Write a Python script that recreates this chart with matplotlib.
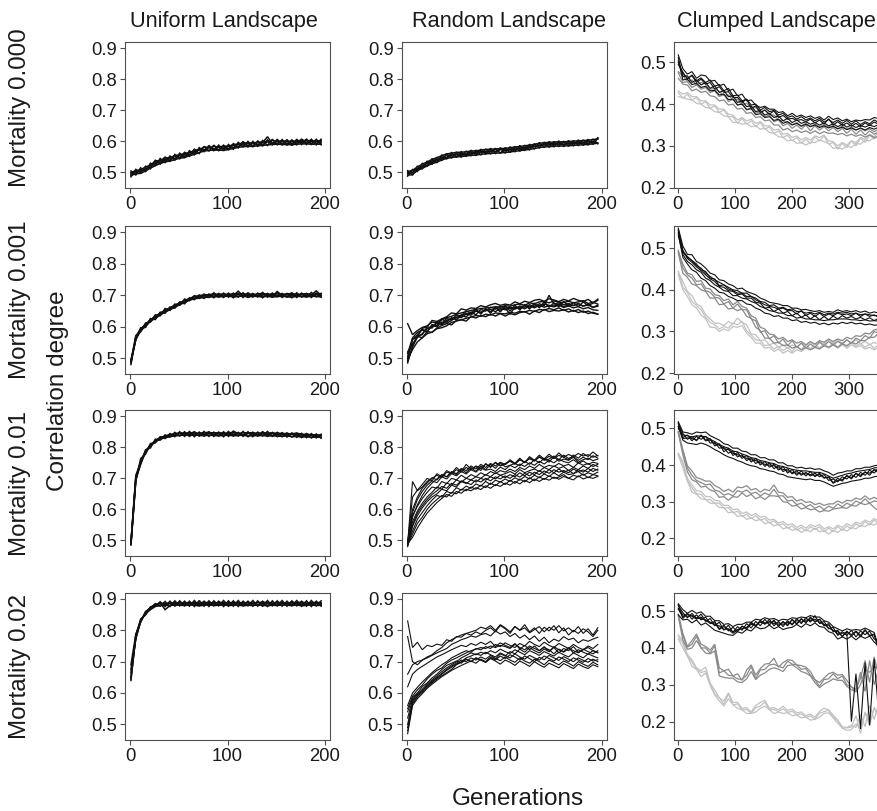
import numpy as np
import matplotlib
matplotlib.use("Agg")
import matplotlib.pyplot as plt

plt.rcParams['font.family'] = ['Liberation Sans', 'DejaVu Sans']

# ---------------- data (values in thousandths of correlation degree) ----------------
GEN_UR = [1, 6, 11, 16, 21, 26, 31, 36, 41, 46, 51, 56, 61, 66, 71, 76, 81, 86, 91, 96,
          101, 106, 111, 116, 121, 126, 131, 136, 141, 146, 151, 156, 161, 166, 171, 176, 181, 186, 191, 196]
GEN_C = [1, 9, 17, 25, 33, 41, 49, 57, 65, 73, 81, 89, 97, 105, 113, 121, 129, 137, 145, 153,
         161, 169, 177, 185, 193, 201, 209, 217, 225, 233, 241, 249, 257, 265, 273, 281, 289, 297, 305, 313,
         321, 329, 337, 345, 353]

COL_TITLES = ["Uniform Landscape", "Random Landscape", "Clumped Landscape"]
ROW_TITLES = ["Mortality 0.000", "Mortality 0.001", "Mortality 0.01", "Mortality 0.02"]
XTICKS_UR = [0, 100, 200]
XTICKS_C = [0, 100, 200, 300]
YTICKS_UR = [0.5, 0.6, 0.7, 0.8, 0.9]
YTICKS_C = [0.2, 0.3, 0.4, 0.5]

# Uniform landscape
U0 = [
    [486,510,498,520,512,540,527,550,535,558,544,565,552,575,561,584,569,588,570,588,572,593,579,600,582,600,584,603,587,607,589,606,588,605,589,608,590,607,589,607],
    [505,492,515,502,530,522,545,532,553,540,562,547,570,557,580,567,587,570,588,570,590,575,597,582,600,582,602,585,605,589,607,588,606,587,607,590,608,589,607,589],
    [500,506,508,518,523,537,538,548,546,555,556,562,563,572,573,582,580,584,582,585,584,590,591,596,594,596,596,599,599,603,600,602,600,601,601,604,602,603,601,603],
    [490,496,497,505,514,522,529,534,537,541,546,548,554,558,564,569,571,572,572,571,574,577,581,583,584,584,586,587,589,590,591,590,590,589,591,592,592,591,591,591],
    [494,503,504,512,518,532,533,543,540,553,549,558,557,567,572,573,580,575,582,576,585,580,592,588,594,586,597,590,599,594,601,593,600,592,601,596,603,594,601,595],
    [498,498,510,508,524,527,540,537,548,545,557,552,565,562,575,572,582,576,574,582,577,588,584,593,587,594,589,596,615,594,594,600,593,599,595,600,595,601,594,600],
]
U1 = [
    [485,572,584,612,615,638,635,658,652,672,668,688,683,699,690,704,693,708,694,707,694,707,694,708,693,706,695,709,694,707,695,706,694,708,693,707,694,709,695,706],
    [495,558,597,598,626,623,646,643,663,659,679,673,692,686,701,690,704,692,706,693,707,692,706,693,708,694,707,692,706,694,707,693,706,692,708,694,706,693,707,694],
    [480,566,592,607,622,633,643,652,660,668,676,683,690,696,699,701,702,704,703,704,702,705,704,703,705,702,704,706,703,704,705,703,704,706,702,704,705,703,704,705],
    [490,562,587,602,617,627,637,647,654,662,670,677,684,689,691,693,694,696,695,696,697,695,696,698,694,697,696,695,697,694,696,697,695,694,697,696,695,697,696,695],
    [492,570,593,604,624,629,645,648,656,670,671,684,685,697,693,699,700,697,703,696,702,699,713,698,700,703,697,701,704,698,712,699,697,702,700,703,698,701,714,700],
    [488,560,589,609,618,634,639,653,659,664,677,678,689,691,697,694,699,702,698,701,699,700,702,699,703,700,698,702,700,703,699,701,703,700,698,702,701,699,702,700],
]
U2 = [
    [490,705,748,792,798,826,823,840,833,848,836,850,835,849,836,851,835,848,836,850,835,849,836,851,834,848,836,850,835,848,834,847,833,846,832,845,831,844,830,842],
    [485,692,764,778,812,814,834,828,844,834,850,835,851,834,849,836,850,835,849,834,851,836,848,835,850,834,849,836,851,835,847,834,846,833,845,831,844,830,843,829],
    [495,710,752,788,806,822,830,836,840,844,846,845,847,846,845,847,846,846,847,845,846,847,845,846,847,845,846,844,845,846,844,843,845,842,843,841,842,840,840,839],
    [488,694,750,783,804,818,826,831,834,837,838,839,838,839,838,837,839,838,837,838,839,837,838,839,836,838,837,838,836,837,836,835,837,834,835,833,834,832,833,832],
    [492,700,756,786,808,820,832,834,842,838,847,841,843,850,839,846,849,841,838,846,840,852,844,839,847,842,840,849,843,838,848,841,838,845,839,836,843,838,834,840],
    [491,698,745,787,804,820,829,830,837,842,838,844,842,841,845,840,844,848,843,839,846,841,844,839,844,848,839,844,842,847,841,846,839,843,846,841,837,840,839,836],
]
U3 = [
    [640,782,828,856,872,884,877,892,876,894,878,893,877,895,878,893,876,894,878,895,877,894,876,893,878,895,877,893,876,894,878,895,877,894,878,893,877,895,878,894],
    [665,775,834,852,868,878,891,876,893,877,894,878,893,876,895,877,894,878,893,876,894,877,895,878,893,877,894,876,895,878,894,877,893,878,895,877,894,876,893,877],
    [690,788,826,858,873,880,886,885,887,886,888,887,886,888,887,889,888,887,889,888,887,889,888,887,889,887,888,890,888,887,889,888,887,889,888,890,887,888,889,888],
    [650,779,831,854,866,876,879,880,879,881,880,879,881,880,878,880,881,879,880,881,879,880,881,878,880,879,881,880,878,880,879,881,880,879,881,878,880,881,879,880],
    [645,785,836,849,875,878,888,866,879,888,884,881,889,884,887,882,885,887,884,881,889,884,880,887,889,884,881,886,887,883,884,888,880,884,887,881,883,886,889,885],
    [675,772,829,860,870,885,879,883,886,882,880,888,886,885,881,885,883,880,888,886,882,885,887,882,884,886,882,884,880,885,881,886,885,883,881,887,884,881,886,883],
]

# Random landscape
R0 = [
    [488,510,503,530,519,545,531,557,543,565,548,568,551,572,554,575,558,578,560,580,562,583,566,587,570,591,575,597,580,600,582,602,583,603,585,605,587,607,590,611],
    [506,491,521,511,537,526,549,538,561,546,566,549,569,553,572,556,576,559,578,561,580,564,584,568,588,572,593,578,598,581,600,583,601,584,603,586,605,588,608,592],
    [503,507,518,527,534,542,548,554,560,562,565,565,567,569,570,572,574,575,576,577,578,580,582,584,586,588,591,594,596,597,598,599,599,600,601,602,603,604,606,608],
    [491,493,506,513,521,528,533,540,545,548,550,551,553,555,556,558,560,561,562,563,564,566,568,570,572,574,577,580,582,583,584,585,585,586,587,588,589,590,592,594],
    [497,498,509,517,523,536,541,550,549,558,552,562,557,559,568,567,564,570,566,576,569,574,572,580,577,579,589,585,591,588,590,596,591,593,592,599,595,600,596,612],
    [495,507,513,521,529,532,537,544,557,549,560,554,561,565,561,569,568,566,575,563,574,568,579,574,576,585,583,587,592,594,589,592,597,591,597,593,598,592,600,595],
    [499,501,511,518,531,537,542,546,547,556,558,557,558,560,564,564,567,569,568,573,572,576,573,578,580,582,584,589,588,589,594,591,590,596,593,597,594,598,599,608],
]
R1 = [
    [485,540,566,578,594,598,611,606,620,627,628,638,642,641,650,646,652,655,648,658,654,659,656,663,657,666,660,668,662,667,663,669,661,666,660,664,657,661,654,652],
    [610,575,588,598,603,615,612,622,629,633,640,644,648,652,655,658,660,661,664,662,667,665,670,672,668,676,673,679,680,676,682,678,677,681,676,679,683,674,678,672],
    [495,528,552,565,578,583,594,597,603,614,618,622,627,631,636,633,640,637,644,642,641,646,643,649,647,652,649,655,653,658,654,660,652,657,649,655,646,650,643,640],
    [500,560,574,592,585,604,600,615,611,620,631,629,640,637,651,645,655,648,661,653,659,662,658,666,662,670,664,673,667,700,672,676,670,674,668,673,666,669,662,665],
    [520,545,570,565,585,582,596,604,610,606,620,622,618,632,628,636,632,640,634,642,634,642,638,645,648,640,650,645,655,648,652,650,654,647,652,645,650,642,646,640],
    [505,560,568,595,600,620,617,625,632,644,641,657,653,660,658,667,663,670,674,668,672,669,679,673,681,677,684,687,681,689,685,680,687,682,690,684,680,687,676,684],
    [490,535,571,575,600,596,616,609,626,622,637,634,650,643,657,640,658,643,662,647,666,650,668,653,671,656,675,660,679,662,676,663,681,666,677,664,679,667,675,688],
    [515,565,582,590,583,607,603,625,615,628,622,636,631,647,638,655,650,662,656,665,659,640,663,658,667,661,670,665,672,668,666,672,664,670,667,674,665,672,661,669],
]
R2 = [
    [490,690,660,672,690,702,695,712,705,720,712,730,718,735,722,740,728,745,732,750,737,742,748,740,755,745,760,750,765,752,770,755,762,758,768,752,760,765,757,762],
    [490,640,662,680,700,692,715,705,725,716,735,722,745,730,738,725,748,735,752,740,745,760,748,765,750,770,758,775,762,778,765,782,768,760,775,765,780,770,785,772],
    [495,600,640,668,685,700,710,702,720,715,728,720,735,727,740,732,745,738,750,742,748,755,745,760,752,766,756,770,758,762,772,760,775,764,770,758,768,760,773,765],
    [485,580,610,635,655,672,668,690,683,700,695,710,700,712,705,718,710,722,715,725,720,730,722,735,728,740,732,745,735,742,738,748,740,745,735,750,742,748,738,745],
    [490,560,595,620,640,655,672,665,685,678,695,688,700,695,705,700,712,705,718,710,715,722,714,728,718,725,730,722,735,728,740,732,738,725,735,728,740,732,745,738],
    [480,545,580,605,625,640,650,665,660,678,672,690,683,695,688,700,694,705,698,710,702,712,705,718,708,720,712,725,715,728,718,730,720,726,715,728,720,732,722,730],
    [490,530,568,590,612,630,645,640,658,652,670,662,675,668,682,675,690,680,694,688,698,690,702,694,706,698,710,702,714,706,718,708,720,712,715,722,710,718,712,720],
    [485,520,555,575,600,618,632,645,640,655,650,665,660,672,665,678,670,685,676,690,680,694,684,698,688,702,692,705,696,708,700,704,712,700,710,705,714,702,712,708],
    [490,510,540,565,588,605,622,635,648,642,658,652,665,660,670,664,676,668,680,674,685,678,690,682,694,686,698,690,700,694,704,697,706,700,695,708,698,704,700,706],
    [495,575,615,645,668,685,698,712,705,722,715,732,725,740,730,745,735,748,740,752,744,756,748,760,752,763,756,768,760,771,764,774,768,777,770,780,772,776,768,774],
    [490,590,632,658,678,692,686,705,698,715,708,722,714,728,720,734,726,730,722,736,728,742,734,746,738,750,742,755,746,758,750,762,754,750,760,748,756,745,752,748],
    [485,550,588,612,632,648,660,674,668,684,678,692,686,680,695,688,700,692,705,698,708,700,712,704,716,708,720,712,724,716,728,720,725,718,730,722,727,720,732,726],
]
R3 = [
    [830,745,762,738,752,748,756,752,770,765,780,778,790,785,795,788,800,808,795,815,805,790,812,800,818,795,808,790,810,798,815,792,808,785,800,790,805,795,780,800],
    [780,700,690,705,715,722,735,745,760,770,778,785,790,795,800,810,805,815,800,818,808,795,812,800,808,792,802,812,795,810,800,815,798,808,795,812,790,805,785,808],
    [660,690,700,705,712,720,728,735,742,755,762,770,775,782,778,786,790,782,798,788,795,780,790,775,785,770,782,765,778,760,772,765,780,770,775,760,770,765,772,778],
    [620,660,675,685,695,705,715,722,730,738,745,752,748,758,752,762,755,765,748,760,752,745,758,740,752,738,750,735,748,732,745,728,742,735,748,730,738,745,735,728],
    [550,590,610,625,645,660,672,680,695,705,712,720,728,735,740,745,742,750,745,752,748,742,755,745,738,750,742,735,745,738,725,740,732,745,728,738,730,724,735,730],
    [500,575,595,612,628,642,655,668,680,690,700,712,720,728,722,730,725,735,728,740,732,726,738,730,722,735,728,720,732,725,718,730,722,715,728,720,712,725,718,712],
    [480,565,588,602,618,635,648,660,672,682,692,700,712,718,725,720,730,722,715,728,720,712,725,715,708,720,712,705,718,710,702,715,708,700,712,705,698,710,702,706],
    [520,580,598,605,625,638,650,662,675,686,695,705,700,712,705,715,708,720,710,703,715,705,698,712,702,695,708,700,690,705,698,690,702,695,686,700,692,685,698,690],
    [490,570,590,608,622,632,645,655,665,675,690,698,708,700,712,705,698,710,702,692,705,698,688,702,694,685,700,690,682,695,688,680,694,686,678,692,684,678,690,684],
    [540,585,600,620,632,648,660,675,688,695,702,695,708,700,712,705,698,712,705,718,710,722,715,705,718,710,700,714,706,720,712,704,716,708,700,712,704,698,708,700],
    [470,560,582,598,615,628,640,652,662,672,680,688,695,702,695,708,700,715,708,725,718,732,725,740,730,745,735,728,740,732,748,738,730,742,735,728,740,732,725,735],
    [560,600,618,635,650,665,678,690,700,712,720,728,735,730,742,738,748,742,755,748,760,752,745,758,750,765,755,748,762,752,745,758,750,742,755,745,738,750,742,755],
]

# Clumped landscape: black / grey / light-grey groups
C0_BLACK = [
    [518,485,472,478,462,470,468,455,457,444,448,432,436,420,424,408,410,398,392,395,388,388,380,382,372,378,370,374,368,372,366,370,362,371,363,367,360,364,358,362,360,363,362,368,365],
    [505,458,460,447,450,440,443,432,433,422,424,411,412,398,400,387,389,375,377,368,370,361,364,354,358,350,354,347,352,346,350,344,348,343,347,341,345,339,343,338,343,338,344,340,345],
    [500,474,462,468,452,460,448,452,436,442,428,430,416,416,404,412,390,396,380,386,376,384,368,373,364,366,361,363,358,364,355,362,352,365,350,358,349,355,347,354,346,355,349,357,352],
    [512,466,468,452,458,446,452,438,444,428,433,418,420,404,408,394,396,382,385,374,378,368,372,360,366,356,362,354,358,352,356,350,355,348,353,346,352,345,350,344,349,345,350,346,352],
    [495,477,460,470,456,463,452,458,443,447,432,438,420,422,408,412,398,400,386,392,382,385,374,378,368,372,364,370,362,367,360,366,357,363,356,362,354,361,352,360,351,358,353,362,356],
]
C0_GREY = [
    [478,468,455,458,446,452,448,436,437,430,421,422,410,412,398,402,391,392,380,386,374,374,362,360,357,351,356,348,354,347,352,346,350,345,348,341,347,340,345,338,342,336,341,334,340],
    [462,448,446,432,436,428,431,420,418,408,410,398,400,388,390,378,380,368,370,360,362,350,350,338,342,334,338,332,336,330,336,329,334,330,331,327,330,324,328,323,327,321,326,320,324],
    [475,452,454,440,446,436,440,428,432,418,424,406,412,398,402,386,392,378,382,370,374,358,362,348,354,342,350,340,350,336,348,338,346,336,344,334,342,330,340,328,338,326,336,328,334],
]
C0_LIGHT = [
    [432,424,428,418,418,408,408,398,398,388,388,376,374,362,368,360,364,354,358,348,348,338,340,328,330,320,324,314,320,314,324,320,326,312,310,300,308,302,312,308,320,316,328,322,332],
    [418,416,412,410,402,400,392,390,382,380,372,370,356,356,352,354,346,348,340,342,332,330,322,320,312,314,306,308,302,308,308,314,310,306,294,296,292,300,296,306,304,314,312,320,318],
    [428,414,424,410,416,400,406,390,396,380,386,370,370,354,366,352,360,346,356,340,346,330,336,320,326,312,320,306,316,306,322,312,324,304,308,292,306,296,312,300,318,308,326,316,328],
]
C1_BLACK = [
    [548,505,485,484,468,462,452,440,436,424,422,414,410,402,404,396,392,388,380,376,370,368,366,362,362,356,356,352,353,350,348,350,346,348,346,352,348,350,347,350,346,349,344,347,344],
    [535,478,462,448,442,428,422,410,404,394,392,384,380,374,374,366,364,356,352,344,342,336,338,332,332,326,328,322,324,320,322,317,320,316,320,318,322,319,322,318,320,316,318,315,316],
    [542,492,480,470,462,448,444,428,426,410,412,402,398,392,392,384,384,376,370,364,360,358,354,356,350,350,342,350,338,344,336,344,336,342,338,344,340,342,338,344,336,342,336,340,334],
    [530,485,468,460,448,442,428,422,412,406,398,396,386,386,380,378,372,368,360,356,350,348,344,344,338,338,332,334,330,330,328,328,326,328,328,330,330,330,328,328,326,328,325,326,325],
    [545,495,475,466,455,446,436,426,420,408,406,398,396,388,390,380,380,370,368,356,358,348,354,344,348,338,344,334,340,330,338,328,336,328,337,330,338,332,336,330,334,328,333,326,332],
    [538,490,478,470,458,452,440,432,424,418,412,406,400,398,392,392,384,380,372,370,362,364,356,358,352,354,348,348,344,346,342,346,340,344,342,346,344,346,342,344,340,342,340,338,338],
]
C1_GREY = [
    [492,462,440,436,420,422,404,402,388,386,374,378,364,372,360,356,338,332,310,306,294,292,282,286,276,280,272,276,268,276,270,278,274,282,276,282,278,286,282,290,288,296,294,304,306],
    [488,440,430,414,410,400,396,380,380,364,366,354,356,350,354,336,332,310,302,284,284,272,274,266,268,260,264,256,262,256,262,258,266,262,268,262,270,266,274,270,278,278,286,286,296],
    [495,452,436,428,412,414,398,394,382,380,366,372,356,366,352,352,330,326,298,302,282,290,272,282,266,278,262,272,260,270,262,274,266,276,268,276,270,280,272,284,278,290,284,300,296],
]
C1_LIGHT = [
    [442,420,396,386,366,360,340,330,320,320,314,324,318,332,322,316,294,292,278,280,268,272,262,268,260,268,262,272,266,274,268,276,270,280,272,280,272,280,272,280,270,276,268,274,268],
    [436,400,384,364,356,340,330,310,310,300,306,302,312,310,314,296,286,272,272,260,262,252,258,248,254,248,256,252,260,256,262,258,266,260,268,260,268,260,268,262,266,258,262,256,262],
    [445,406,394,372,362,352,334,322,316,306,312,308,320,316,324,302,292,280,278,266,268,258,264,254,262,252,264,256,268,258,270,260,272,262,274,262,274,262,274,264,272,262,270,260,268],
]
C2_BLACK = [
    [518,490,488,484,490,488,490,480,474,468,458,455,446,446,438,436,428,428,420,420,414,414,406,406,398,398,392,394,390,392,388,390,384,380,372,378,380,384,384,390,390,394,394,398,400],
    [505,468,460,458,456,460,456,450,442,436,428,422,418,412,408,402,398,396,390,388,384,382,376,374,368,366,364,362,360,362,358,358,354,348,342,346,350,352,356,358,360,364,364,368,370],
    [512,486,470,478,466,482,468,472,452,458,436,446,426,434,418,426,408,418,400,410,394,402,386,396,378,388,372,384,370,382,368,378,364,368,352,364,356,372,362,378,368,382,372,388,378],
    [505,475,482,466,478,470,478,460,462,446,448,432,438,422,428,412,420,404,412,396,406,390,398,382,390,376,384,372,380,370,378,368,374,358,362,354,368,362,374,366,380,372,386,378,392],
    [515,472,474,472,468,480,466,468,458,454,444,442,432,428,424,418,414,412,406,402,400,398,392,388,384,380,378,376,376,374,372,374,366,366,350,358,360,370,366,376,372,380,378,386,388],
    [500,482,480,476,480,478,478,470,464,456,450,446,438,436,430,426,420,418,412,410,406,404,398,396,392,388,386,384,384,382,380,380,376,370,364,368,372,376,378,382,384,386,388,392,394],
]
C2_GREY = [
    [492,442,398,384,366,362,356,356,344,338,328,334,326,340,338,344,332,336,326,334,330,346,326,324,312,314,302,306,298,300,292,296,290,294,294,302,296,304,302,310,306,316,306,312,305],
    [488,428,382,360,354,340,342,332,328,312,314,304,314,312,324,314,320,308,314,306,316,316,314,300,298,288,290,280,284,278,280,272,276,274,280,282,284,282,290,288,296,292,296,284,275],
    [490,436,392,372,358,352,346,348,332,328,318,322,316,330,326,332,322,326,316,324,318,334,316,316,302,304,292,296,286,292,282,288,278,288,282,294,286,296,290,302,296,308,296,302,300],
]
C2_LIGHT = [
    [432,410,364,346,330,328,314,314,304,302,290,290,278,280,268,272,262,268,258,260,250,252,242,246,236,240,230,236,228,238,232,238,226,232,226,236,230,240,234,244,240,250,244,254,248],
    [428,392,356,326,320,308,306,296,296,284,284,270,272,260,262,252,256,248,252,240,244,234,238,226,230,222,226,216,224,218,228,218,222,212,222,216,226,220,230,226,236,232,240,236,244],
    [430,402,358,338,322,320,306,306,296,296,282,284,270,274,260,266,254,262,250,254,242,248,236,240,228,234,222,230,220,232,224,232,218,228,218,232,222,234,226,240,232,246,236,250,240],
]
C3_BLACK = [
    [515,496,482,494,480,492,472,480,460,470,448,462,442,458,448,466,454,472,460,478,462,476,458,472,460,478,464,480,468,484,470,478,460,466,444,448,430,446,432,444,430,448,434,438,400],
    [505,484,494,478,490,476,484,466,472,452,462,446,456,444,460,450,468,458,474,464,478,460,472,458,474,462,480,466,482,470,488,466,472,452,456,434,444,434,448,430,446,436,446,424,420],
    [520,504,494,502,494,498,486,486,474,474,464,466,458,464,464,470,470,478,476,482,478,480,474,478,476,482,480,484,482,488,484,484,474,470,458,452,446,452,448,450,448,454,448,442,400],
    [490,476,478,468,476,462,468,458,448,444,440,436,434,444,440,450,446,458,452,454,462,452,458,450,454,456,464,456,466,460,468,458,456,444,440,424,430,424,432,422,432,426,432,416,405],
    [518,480,492,486,478,484,474,468,468,450,458,450,440,448,458,454,470,460,474,468,468,472,462,470,464,476,466,478,470,480,472,478,462,462,446,444,432,444,436,446,434,450,432,436,392],
    [508,490,486,488,482,480,476,470,462,460,450,452,444,450,452,456,464,462,470,466,472,466,468,464,470,466,474,470,476,474,478,470,464,454,448,438,440,442,200,330,180,360,190,370,220],
]
C3_GREY = [
    [492,440,404,420,438,410,404,394,410,346,338,342,324,330,312,340,354,326,344,356,358,372,348,360,368,366,354,352,348,336,314,306,318,330,334,326,328,312,294,288,318,366,306,376,326],
    [486,422,396,400,420,400,386,384,392,324,320,318,318,308,306,316,336,314,326,332,342,346,342,336,352,354,346,336,332,324,306,292,302,308,316,312,312,296,286,282,334,282,366,300,344],
    [490,434,402,410,432,400,400,386,406,332,338,326,324,316,314,326,350,316,340,342,354,356,350,346,364,356,354,342,344,326,314,296,314,316,330,316,324,300,294,280,300,340,334,350,340],
]
C3_LIGHT = [
    [436,418,382,368,346,338,348,304,286,264,256,278,252,252,236,238,226,244,252,258,236,238,232,242,230,234,224,226,216,220,212,228,236,232,218,204,186,184,190,184,219,186,244,206,249],
    [424,400,378,350,342,322,332,298,272,256,242,262,246,236,232,222,222,226,236,242,232,222,226,222,224,216,218,210,212,204,206,212,222,224,210,196,182,176,178,194,179,224,189,239,209],
    [430,412,378,362,342,333,337,305,275,265,247,275,245,248,232,233,222,238,242,253,232,233,227,235,225,228,219,221,212,215,207,223,227,231,212,203,182,183,185,216,168,226,199,236,220],
]

UNIFORM = [U0, U1, U2, U3]
RANDOM = [R0, R1, R2, R3]
CLUMPED = [(C0_LIGHT, C0_GREY, C0_BLACK), (C1_LIGHT, C1_GREY, C1_BLACK),
           (C2_LIGHT, C2_GREY, C2_BLACK), (C3_LIGHT, C3_GREY, C3_BLACK)]

# ---------------- layout ----------------
W, H = 877, 811
fig = plt.figure(figsize=(W / 100, H / 100), dpi=100)

COL_PX = [(125, 330), (401.7, 606.7), (674.3, 879.3)]
ROW_PX = [(42, 188), (226, 374), (410, 556), (592.7, 740)]
C_YLIM = [(0.199, 0.549), (0.198, 0.553), (0.152, 0.55), (0.15, 0.55)]
UR_YLIM = (0.45, 0.92)
UR_XLIM = (-5.1, 205.1)
C_XLIM = (-6, 354)

FRAME = '#505050'
BLACK = '#111111'
GREY = '#8a8a8a'
LIGHT = '#c2c2c2'
TICK_FS = 13.3
# line width per (column, row) : dense bands drawn a little heavier
LW_UR = [[1.1, 1.1, 1.1, 1.1], [1.0, 1.0, 0.8, 0.8]]


def make_ax(c, r):
    l, rr = COL_PX[c]
    t, b = ROW_PX[r]
    ax = fig.add_axes([l / W, 1 - b / H, (rr - l) / W, (b - t) / H])
    for s in ax.spines.values():
        s.set_color(FRAME)
        s.set_linewidth(0.8)
    ax.tick_params(direction='out', length=3.3, width=0.8, color=FRAME,
                   labelsize=TICK_FS, pad=2.6, labelcolor='#1a1a1a')
    return ax


def draw(ax, x, lines, color, lw):
    for ln in lines:
        n = min(len(x), len(ln))
        ax.plot(x[:n], np.array(ln[:n]) / 1000.0, color=color, lw=lw,
                solid_joinstyle='miter')


for r in range(4):
    for c, group in enumerate([UNIFORM, RANDOM]):
        ax = make_ax(c, r)
        draw(ax, GEN_UR, group[r], BLACK, LW_UR[c][r])
        ax.set_xlim(*UR_XLIM)
        ax.set_ylim(*UR_YLIM)
        ax.set_xticks(XTICKS_UR)
        ax.set_yticks(YTICKS_UR)
        ax.set_yticklabels([f"{v:.1f}" for v in YTICKS_UR])
    ax = make_ax(2, r)
    light, grey, black = CLUMPED[r]
    draw(ax, GEN_C, light, LIGHT, 0.9)
    draw(ax, GEN_C, grey, GREY, 0.9)
    draw(ax, GEN_C, black, BLACK, 0.8)
    ax.set_xlim(*C_XLIM)
    ax.set_ylim(*C_YLIM[r])
    ax.set_xticks(XTICKS_C)
    ax.set_yticks(YTICKS_C)
    ax.set_yticklabels([f"{v:.1f}" for v in YTICKS_C])

# column titles
for txt, xc in zip(COL_TITLES, [224, 509, 776]):
    fig.text(xc / W, 1 - 26.7 / H, txt, ha='center', va='baseline',
             fontsize=15.7, color='#1a1a1a')

# row labels
for txt, yc in zip(ROW_TITLES, [108, 300, 483, 666]):
    fig.text(20 / W, 1 - yc / H, txt, rotation=90, ha='center', va='center',
             fontsize=17.4, color='#1a1a1a')

fig.text(58 / W, 1 - 391 / H, "Correlation degree", rotation=90, ha='center',
         va='center', fontsize=17.5, color='#1a1a1a')
fig.text(518 / W, 1 - 805 / H, "Generations", ha='center', va='baseline',
         fontsize=17.5, color='#1a1a1a')

fig.savefig("out.png", dpi=100)
